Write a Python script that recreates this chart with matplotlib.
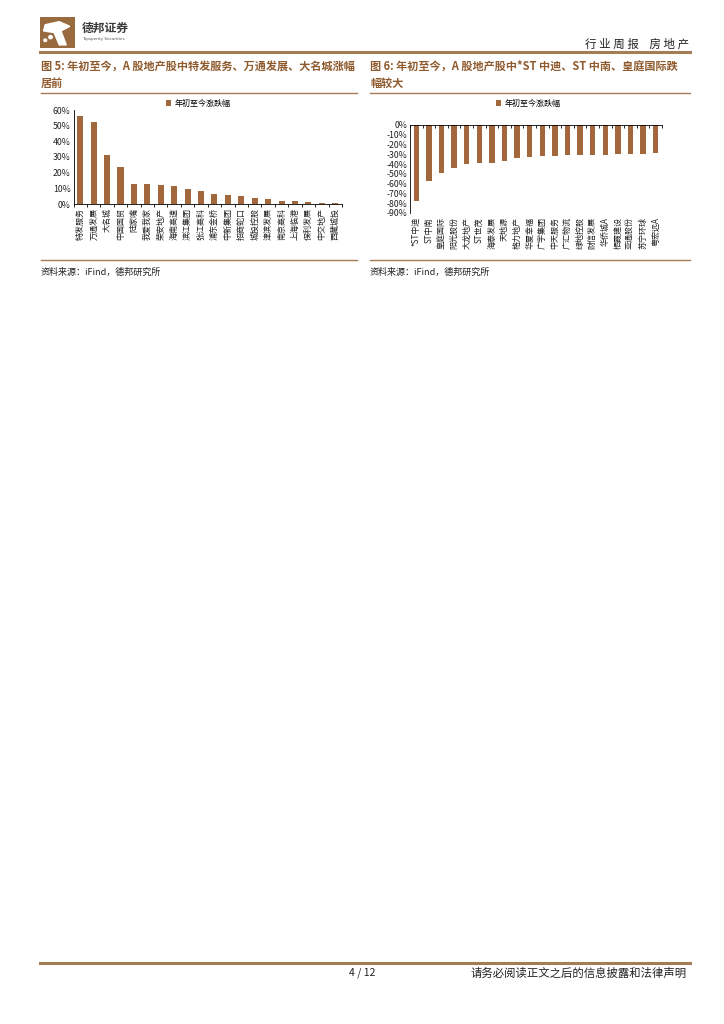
import numpy as np
import matplotlib.pyplot as plt
import matplotlib.patches as mpatches
from matplotlib.ticker import FuncFormatter, FixedLocator

plt.rcParams['font.family'] = ['Noto Sans CJK SC', 'DejaVu Sans']

# 数据：年初至今涨跌幅（%）
names_up = ['特发服务', '万通发展', '大名城', '中国国贸', '陆家嘴', '我爱我家', '荣安地产',
            '海南高速', '滨江集团', '张江高科', '浦东金桥', '中新集团', '招商蛇口', '城投控股',
            '津滨发展', '南京高科', '上海临港', '保利发展', '中交地产', '西藏城投']
vals_up = [56.2, 52.6, 31.5, 23.9, 12.9, 12.7, 12.4, 11.5, 9.6, 8.2,
           6.3, 5.6, 5.1, 3.8, 3.5, 1.9, 1.8, 1.1, 0.9, 0.4]

names_down = ['*ST中迪', 'ST中南', '皇庭国际', '阳光股份', '大龙地产', 'ST世茂', '海泰发展',
              '天地源', '格力地产', '华夏幸福', '广宇集团', '中天服务', '广汇物流', '绿地控股',
              '财信发展', '华侨城A', '栖霞建设', '亚通股份', '苏宁环球', '粤宏远A']
vals_down = [-78.2, -57.6, -49.6, -43.5, -40.0, -39.3, -38.6, -36.5, -33.5, -33.0,
             -32.1, -31.8, -31.0, -30.4, -30.3, -30.2, -29.8, -29.8, -29.3, -28.9]

legend_up = '年初至今涨跌幅'
legend_down = '年初至今涨跌幅'

W, H = 724, 1024
BAR = '#A2673A'
BROWN = '#8F5B2E'
LINE = '#A57C55'

fig = plt.figure(figsize=(W / 100, H / 100), dpi=100)


def fx(x):
    return x / W


def fy(y):
    return 1 - y / H


def rect(x0, y0, x1, y1):
    # 像素坐标 -> figure 坐标
    return [fx(x0), fy(y1), fx(x1) - fx(x0), fy(y0) - fy(y1)]


def hline(x0, x1, y, lw, color=LINE):
    fig.add_artist(plt.Line2D([fx(x0), fx(x1)], [fy(y), fy(y)], lw=lw, color=color))


# --- 页眉 ---
logo = fig.add_axes(rect(40, 17, 75, 48))
logo.set_xlim(0, 1)
logo.set_ylim(0, 1)
logo.axis('off')
logo.add_patch(mpatches.Rectangle((0, 0), 1, 1, color='#9A6A3F'))
logo.add_patch(mpatches.Polygon([[0.15, 0.75], [0.55, 0.85], [0.85, 0.7], [0.6, 0.55],
                                 [0.75, 0.1], [0.55, 0.1], [0.4, 0.5], [0.1, 0.55]],
                                color='white'))
logo.add_patch(mpatches.Circle((0.3, 0.35), 0.05, color='white'))
logo.add_patch(mpatches.Circle((0.15, 0.25), 0.04, color='white'))

fig.text(fx(82), fy(28), '德邦证券', fontsize=8.5, fontweight='bold', color='#3A3A3A',
         va='center', ha='left')
fig.text(fx(82), fy(39), 'Topsperity Securities', fontsize=3, color='#555555',
         va='center', ha='left', family='DejaVu Sans')
fig.text(fx(689), fy(44), '行 业 周 报    房 地 产', fontsize=8.3, color='#222222',
         va='center', ha='right')
hline(40, 690, 52, 2.2)

# --- 图表标题 ---
TS = 8.0
fig.text(fx(41), fy(66), '图 5: 年初至今，A 股地产股中特发服务、万通发展、大名城涨幅',
         fontsize=TS, fontweight='bold', color=BROWN, va='center', ha='left')
fig.text(fx(41), fy(83), '居前', fontsize=TS, fontweight='bold', color=BROWN,
         va='center', ha='left')
fig.text(fx(370), fy(66), '图 6: 年初至今，A 股地产股中*ST 中迪、ST 中南、皇庭国际跌',
         fontsize=TS, fontweight='bold', color=BROWN, va='center', ha='left')
fig.text(fx(370), fy(83), '幅较大', fontsize=TS, fontweight='bold', color=BROWN,
         va='center', ha='left')
hline(41, 357, 93, 1.0)
hline(370, 690, 93, 1.0)


def style_cat_axis(ax, names):
    n = len(names)
    x = np.arange(n)
    ax.set_xlim(-0.5, n - 0.5)
    ax.set_xticks(x)
    ax.set_xticklabels(names, rotation=90, fontsize=5.8, color='#222222')
    ax.xaxis.set_minor_locator(FixedLocator(np.arange(n + 1) - 0.5))
    ax.tick_params(axis='x', which='major', length=0, pad=3)
    ax.tick_params(axis='y', labelsize=6.3, length=0, pad=2, colors='#222222')
    for s in ['top', 'right', 'bottom', 'left']:
        ax.spines[s].set_visible(False)
    ax.yaxis.set_major_formatter(FuncFormatter(lambda v, p: f'{v:.0f}%'))


# --- 图5 ---
ax1 = fig.add_axes(rect(73.5, 110, 342, 204))
x1 = np.arange(len(names_up))
ax1.bar(x1, vals_up, width=0.45, color=BAR, label=legend_up)
style_cat_axis(ax1, names_up)
ax1.set_ylim(0, 60)
ax1.set_yticks(np.arange(0, 61, 10))
ax1.spines['left'].set_visible(True)
ax1.spines['bottom'].set_visible(True)
ax1.spines['left'].set_linewidth(0.6)
ax1.spines['bottom'].set_linewidth(0.6)
ax1.tick_params(axis='x', which='minor', length=2.5, width=0.6, direction='out')
ax1.legend(loc='center', bbox_to_anchor=(fx(198), fy(103)), bbox_transform=fig.transFigure,
           frameon=False, fontsize=5.8, handlelength=0.7, handleheight=0.7,
           handletextpad=0.4, borderpad=0)

# --- 图6 ---
ax2 = fig.add_axes(rect(410, 125, 662, 213))
x2 = np.arange(len(names_down))
ax2.bar(x2, vals_down, width=0.42, color=BAR, label=legend_down)
style_cat_axis(ax2, names_down)
ax2.set_ylim(-90, 0)
ax2.set_yticks(np.arange(-90, 1, 10))
ax2.spines['left'].set_visible(True)
ax2.spines['top'].set_visible(True)
ax2.spines['left'].set_linewidth(0.6)
ax2.spines['top'].set_linewidth(0.6)
ax2.tick_params(axis='x', which='minor', top=True, bottom=False, length=2.5, width=0.6,
                direction='in')
ax2.legend(loc='center', bbox_to_anchor=(fx(528), fy(103)), bbox_transform=fig.transFigure,
           frameon=False, fontsize=5.8, handlelength=0.7, handleheight=0.7,
           handletextpad=0.4, borderpad=0)

# --- 资料来源 ---
hline(41, 357, 260, 1.0)
hline(370, 690, 260, 1.0)
fig.text(fx(41), fy(272), '资料来源：iFind，德邦研究所', fontsize=6.5, color='#222222',
         va='center', ha='left')
fig.text(fx(370), fy(272), '资料来源：iFind，德邦研究所', fontsize=6.5, color='#222222',
         va='center', ha='left')

# --- 页脚 ---
hline(40, 690, 963, 2.2)
fig.text(fx(362), fy(973), '4 / 12', fontsize=7.5, color='#222222', va='center', ha='center')
fig.text(fx(687), fy(973), '请务必阅读正文之后的信息披露和法律声明', fontsize=8.2,
         color='#222222', va='center', ha='right')

fig.savefig('out.png', dpi=100)
